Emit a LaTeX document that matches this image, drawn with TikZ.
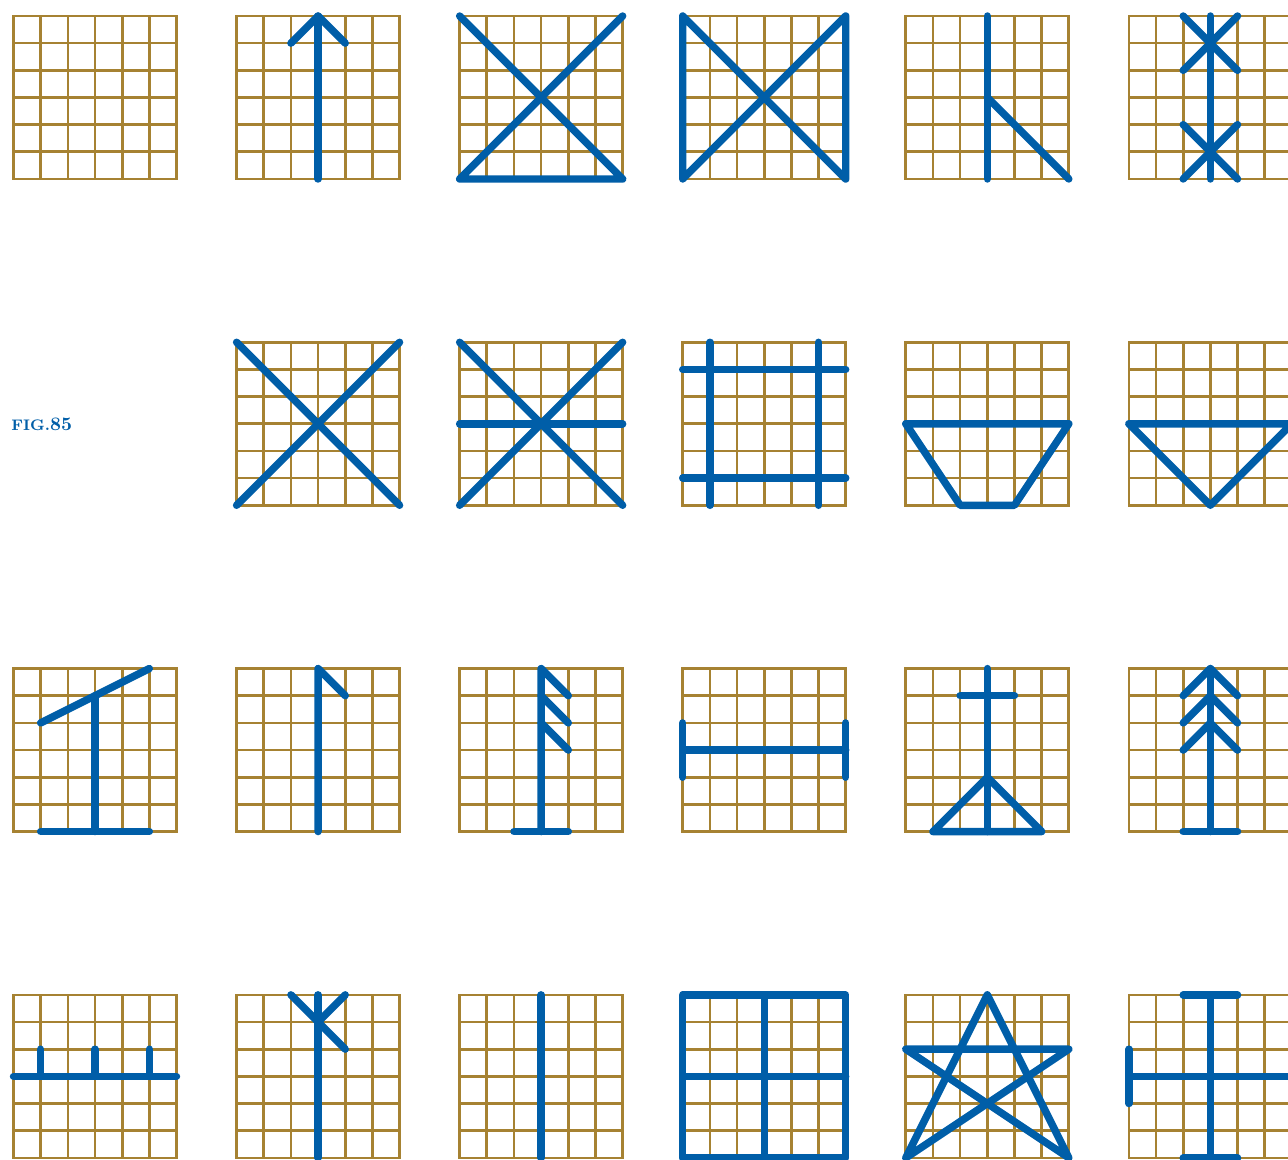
\documentclass[tikz,border=0pt]{standalone}
\usepackage{tikz}

\definecolor{gridbrown}{RGB}{166,130,50}
\definecolor{runeblue}{RGB}{0,94,168}
\tikzset{
  gridline/.style={draw=gridbrown,line width=1.4pt,line cap=rect},
  rune/.style={draw=runeblue,line width=3.9pt,line cap=round,line join=round},
}
\newcommand{\cellgrid}{\draw[gridline] (0,0) grid (6,6);}

\begin{document}
\begin{tikzpicture}[scale=0.5]
\useasboundingbox (0,0) rectangle (47.41,-42.69);
% row 1
\begin{scope}[shift={(0.497,-6.589)}]
\cellgrid
\end{scope}
\begin{scope}[shift={(8.708,-6.589)}]
\cellgrid
\draw[rune] (3,0) -- (3,6);
\draw[rune] (2,5) -- (3,6) -- (4,5);
\end{scope}
\begin{scope}[shift={(16.919,-6.589)}]
\cellgrid
\draw[rune] (0,6) -- (6,0) -- (0,0) -- (6,6);
\end{scope}
\begin{scope}[shift={(25.130,-6.589)}]
\cellgrid
\draw[rune] (0,0) -- (0,6) -- (6,0) -- (6,6) -- (0,0);
\end{scope}
\begin{scope}[shift={(33.341,-6.589)}]
\cellgrid
\draw[rune] (3,0) -- (3,6);
\draw[rune] (3,3) -- (6,0);
\end{scope}
\begin{scope}[shift={(41.552,-6.589)}]
\cellgrid
\draw[rune] (3,0) -- (3,6);
\draw[rune] (2,6) -- (4,4);
\draw[rune] (4,6) -- (2,4);
\draw[rune] (2,2) -- (4,0);
\draw[rune] (4,2) -- (2,0);
\end{scope}
% row 2
\node[anchor=base west,inner sep=0pt,text=runeblue,font=\bfseries] (figlabel)
  at (0.405,-15.86) {{\footnotesize FIG.}85};
\begin{scope}[shift={(8.708,-18.599)}]
\cellgrid
\draw[rune] (0,0) -- (6,6);
\draw[rune] (0,6) -- (6,0);
\end{scope}
\begin{scope}[shift={(16.919,-18.599)}]
\cellgrid
\draw[rune] (0,0) -- (6,6);
\draw[rune] (0,6) -- (6,0);
\draw[rune] (0,3) -- (6,3);
\end{scope}
\begin{scope}[shift={(25.130,-18.599)}]
\cellgrid
\draw[rune] (1,0) -- (1,6);
\draw[rune] (5,0) -- (5,6);
\draw[rune] (0,5) -- (6,5);
\draw[rune] (0,1) -- (6,1);
\end{scope}
\begin{scope}[shift={(33.341,-18.599)}]
\cellgrid
\draw[rune] (0,3) -- (6,3) -- (4,0) -- (2,0) -- cycle;
\end{scope}
\begin{scope}[shift={(41.552,-18.599)}]
\cellgrid
\draw[rune] (0,3) -- (6,3) -- (3,0) -- cycle;
\end{scope}
% row 3
\begin{scope}[shift={(0.497,-30.609)}]
\cellgrid
\draw[rune] (1,4) -- (5,6);
\draw[rune] (3,5) -- (3,0);
\draw[rune] (1,0) -- (5,0);
\end{scope}
\begin{scope}[shift={(8.708,-30.609)}]
\cellgrid
\draw[rune] (3,0) -- (3,6) -- (4,5);
\end{scope}
\begin{scope}[shift={(16.919,-30.609)}]
\cellgrid
\draw[rune] (3,0) -- (3,6) -- (4,5);
\draw[rune] (3,5) -- (4,4);
\draw[rune] (3,4) -- (4,3);
\draw[rune] (2,0) -- (4,0);
\end{scope}
\begin{scope}[shift={(25.130,-30.609)}]
\cellgrid
\draw[rune] (0,3) -- (6,3);
\draw[rune] (0,2) -- (0,4);
\draw[rune] (6,2) -- (6,4);
\end{scope}
\begin{scope}[shift={(33.341,-30.609)}]
\cellgrid
\draw[rune] (3,0) -- (3,6);
\draw[rune] (2,5) -- (4,5);
\draw[rune] (1,0) -- (3,2) -- (5,0) -- cycle;
\end{scope}
\begin{scope}[shift={(41.552,-30.609)}]
\cellgrid
\draw[rune] (3,0) -- (3,6);
\draw[rune] (2,5) -- (3,6) -- (4,5);
\draw[rune] (2,4) -- (3,5) -- (4,4);
\draw[rune] (2,3) -- (3,4) -- (4,3);
\draw[rune] (2,0) -- (4,0);
\end{scope}
% row 4
\begin{scope}[shift={(0.497,-42.619)}]
\cellgrid
\draw[rune] (0,3) -- (6,3);
\draw[rune] (1,3) -- (1,4);
\draw[rune] (3,3) -- (3,4);
\draw[rune] (5,3) -- (5,4);
\end{scope}
\begin{scope}[shift={(8.708,-42.619)}]
\cellgrid
\draw[rune] (3,0) -- (3,6);
\draw[rune] (2,6) -- (4,4);
\draw[rune] (4,6) -- (3,5);
\end{scope}
\begin{scope}[shift={(16.919,-42.619)}]
\cellgrid
\draw[rune] (3,0) -- (3,6);
\end{scope}
\begin{scope}[shift={(25.130,-42.619)}]
\cellgrid
\draw[rune] (0,0) rectangle (6,6);
\draw[rune] (3,0) -- (3,6);
\draw[rune] (0,3) -- (6,3);
\end{scope}
\begin{scope}[shift={(33.341,-42.619)}]
\cellgrid
\draw[rune] (3,6) -- (0,0) -- (6,4) -- (0,4) -- (6,0) -- cycle;
\end{scope}
\begin{scope}[shift={(41.552,-42.619)}]
\cellgrid
\draw[rune] (3,0) -- (3,6);
\draw[rune] (2,6) -- (4,6);
\draw[rune] (2,0) -- (4,0);
\draw[rune] (0,3) -- (6,3);
\draw[rune] (0,2) -- (0,4);
\draw[rune] (6,2) -- (6,4);
\end{scope}
\end{tikzpicture}
\end{document}
